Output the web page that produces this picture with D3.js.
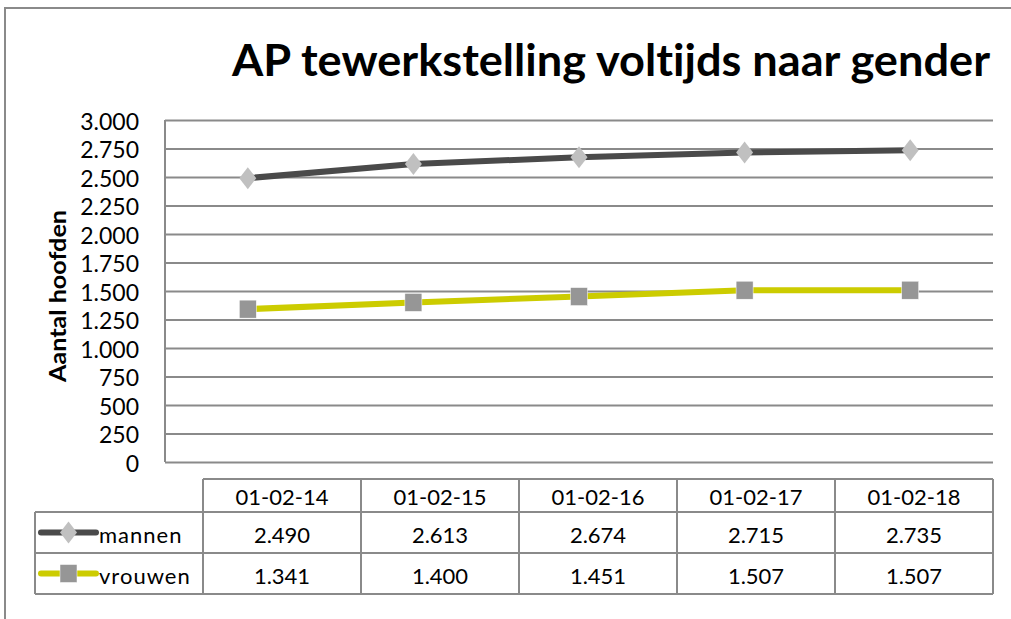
<!DOCTYPE html>
<html>
<head>
<meta charset="utf-8">
<script src="https://cdn.jsdelivr.net/npm/d3@7"></script>
<style>
body { margin: 0; background: #fff; }
text { font-family: Lato, "Open Sans", sans-serif; fill: #000; font-variant-ligatures: none; }
</style>
</head>
<body>
<div id="viz"></div>
<script>
var width = 1011;
var height = 619;

var dates = ["01-02-14", "01-02-15", "01-02-16", "01-02-17", "01-02-18"];
var mannen = [2490, 2613, 2674, 2715, 2735];
var vrouwen = [1341, 1400, 1451, 1507, 1507];
var seriesNames = ["mannen", "vrouwen"];
var yTicks = [0, 250, 500, 750, 1000, 1250, 1500, 1750, 2000, 2250, 2500, 2750, 3000];

var plot = {left: 165, right: 993, top: 120, bottom: 462};
var table = {left: 203, legendLeft: 35, right: 993, rows: [479, 512, 553, 594]};
var gridColor = "#8a8a8a";

var nl = d3.formatLocale({decimal: ",", thousands: ".", grouping: [3], currency: ["€", ""]});
var fmt = nl.format(",d");

var x = d3.scaleBand()
	.domain(dates)
	.range([plot.left, plot.right]);

var y = d3.scaleLinear()
	.domain([0, 3000])
	.range([plot.bottom, plot.top]);

var tx = d3.scaleBand()
	.domain(dates)
	.range([table.left, table.right]);

var svg = d3.select("#viz").append("svg")
	.attr("width", width)
	.attr("height", height);

// outer chart frame
svg.append("rect")
	.attr("x", 5)
	.attr("y", 8)
	.attr("width", width + 20)
	.attr("height", height + 20)
	.style("fill", "#fff")
	.style("stroke", gridColor)
	.style("stroke-width", 2);

svg.append("text")
	.attr("x", 232)
	.attr("y", 76)
	.attr("textLength", 758)
	.attr("lengthAdjust", "spacingAndGlyphs")
	.style("font-size", "44px")
	.style("font-weight", "bold")
	.text("AP tewerkstelling voltijds naar gender");

svg.append("text")
	.attr("transform", "translate(66,296) rotate(-90)")
	.attr("text-anchor", "middle")
	.attr("textLength", 172)
	.attr("lengthAdjust", "spacingAndGlyphs")
	.style("font-size", "22px")
	.style("font-weight", "bold")
	.text("Aantal hoofden");

// y axis with gridlines
var yAxis = svg.append("g")
	.attr("transform", "translate(" + plot.left + ",0)")
	.call(d3.axisLeft(y)
		.tickValues(yTicks)
		.tickFormat(fmt)
		.tickSize(-(plot.right - plot.left))
		.tickPadding(26));

yAxis.select(".domain").remove();
yAxis.selectAll(".tick line")
	.style("stroke", gridColor)
	.style("stroke-width", 2);
yAxis.selectAll(".tick text")
	.attr("dy", "0.4em")
	.style("font-family", "Lato, sans-serif")
	.style("font-size", "23px")
	.style("fill", "#000");

svg.append("line")
	.attr("x1", plot.left).attr("x2", plot.left)
	.attr("y1", plot.top).attr("y2", plot.bottom)
	.style("stroke", gridColor)
	.style("stroke-width", 2);

// series
var lineGen = d3.line()
	.x(function(d, i) { return x(dates[i]) + x.bandwidth() / 2; })
	.y(function(d) { return y(d); });

var diamond = function(cx, cy, w, h) {
	return "M" + cx + "," + (cy - h / 2) + "L" + (cx + w / 2) + "," + cy +
		"L" + cx + "," + (cy + h / 2) + "L" + (cx - w / 2) + "," + cy + "Z";
};

var styles = {
	mannen: {line: "#4a4a4a", marker: "#c0c0c0", shape: "diamond"},
	vrouwen: {line: "#cccc00", marker: "#969696", shape: "square"}
};

var drawMarker = function(g, name, cx, cy) {
	var s = styles[name];
	if (s.shape == "diamond") {
		g.append("path")
			.attr("d", diamond(cx, cy, 17, 22))
			.style("fill", s.marker);
	} else {
		g.append("rect")
			.attr("x", cx - 8.5)
			.attr("y", cy - 9)
			.attr("width", 17)
			.attr("height", 18)
			.style("fill", s.marker)
			.style("stroke", "#fff")
			.style("stroke-width", 0.5);
	}
};

[mannen, vrouwen].forEach(function(values, k) {
	var name = seriesNames[k];
	var g = svg.append("g");
	g.append("path")
		.datum(values)
		.attr("d", lineGen)
		.style("fill", "none")
		.style("stroke", styles[name].line)
		.style("stroke-width", 6);
	values.forEach(function(v, i) {
		drawMarker(g, name, x(dates[i]) + x.bandwidth() / 2, y(v));
	});
});

// data table
var tg = svg.append("g");
var rows = table.rows;

var hline = function(x1, x2, yy) {
	tg.append("line")
		.attr("x1", x1).attr("x2", x2)
		.attr("y1", yy).attr("y2", yy)
		.style("stroke", gridColor)
		.style("stroke-width", 2);
};
var vline = function(xx, y1, y2) {
	tg.append("line")
		.attr("x1", xx).attr("x2", xx)
		.attr("y1", y1).attr("y2", y2)
		.style("stroke", gridColor)
		.style("stroke-width", 2);
};

hline(table.left, table.right, rows[0]);
hline(table.legendLeft, table.right, rows[1]);
hline(table.legendLeft, table.right, rows[2]);
hline(table.legendLeft, table.right, rows[3]);
vline(table.legendLeft, rows[1], rows[3]);
dates.forEach(function(d) { vline(tx(d), rows[0], rows[3]); });
vline(table.right, rows[0], rows[3]);

tg.selectAll(".hdr")
	.data(dates)
	.enter().append("text")
	.attr("class", "hdr")
	.attr("x", function(d) { return tx(d) + tx.bandwidth() / 2; })
	.attr("y", rows[1] - 7)
	.attr("text-anchor", "middle")
	.style("font-size", "22px")
	.text(function(d) { return d; });

[mannen, vrouwen].forEach(function(values, k) {
	var name = seriesNames[k];
	var base = rows[k + 2] - 10;
	var mid = (rows[k + 1] + rows[k + 2]) / 2;

	tg.selectAll(".val" + k)
		.data(values)
		.enter().append("text")
		.attr("class", "val" + k)
		.attr("x", function(d, i) { return tx(dates[i]) + tx.bandwidth() / 2; })
		.attr("y", base)
		.attr("text-anchor", "middle")
		.style("font-size", "22px")
		.text(function(d) { return fmt(d); });

	tg.append("line")
		.attr("x1", 41).attr("x2", 96)
		.attr("y1", mid).attr("y2", mid)
		.style("stroke", styles[name].line)
		.style("stroke-width", 6)
		.style("stroke-linecap", "round");
	drawMarker(tg, name, 68.5, mid);

	tg.append("text")
		.attr("x", 99)
		.attr("y", base)
		.style("font-size", "22px")
		.style("letter-spacing", "1px")
		.text(name);
});
</script>
</body>
</html>
